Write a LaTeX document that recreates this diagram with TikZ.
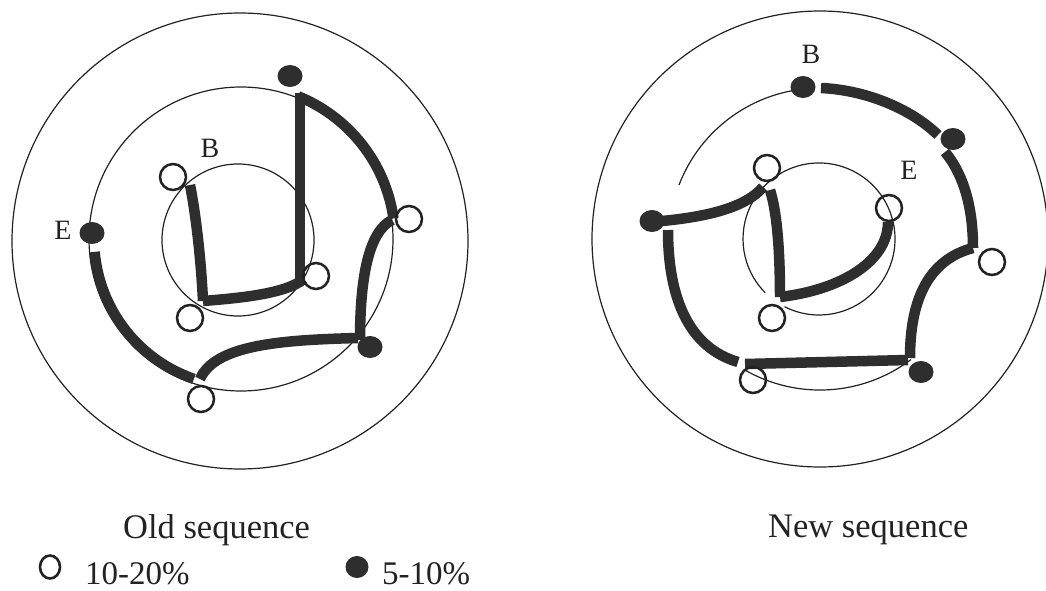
\documentclass[tikz,border=0pt]{standalone}
\usepackage{fontspec}
\setmainfont{Liberation Serif}
\usetikzlibrary{shapes.geometric}
\definecolor{ink}{HTML}{222222}
\definecolor{heavy}{HTML}{2E2E2E}
\begin{document}
\begin{tikzpicture}[x=1pt,y=1pt,
  ring/.style={draw=ink, line width=1.2pt},
  route/.style={draw=heavy, line width=10.5pt, line cap=butt},
  opendot/.style={circle, draw=ink, line width=2.5pt, minimum size=26pt, inner sep=0pt},
  fulldot/.style={ellipse, fill=heavy, minimum width=25pt, minimum height=22pt, inner sep=0pt},
  lbl/.style={font=\fontsize{28}{30}\selectfont, text=ink, inner sep=0pt},
  capt/.style={font=\fontsize{34.5}{38}\selectfont, text=ink, inner sep=0pt, text depth=0pt, anchor=base west},
  keyt/.style={font=\fontsize{33}{36}\selectfont, text=ink, inner sep=0pt, text depth=0pt, anchor=base west},
]
\useasboundingbox[fill=white] (0,0) rectangle (1046,-591);

% ---------------- left diagram ----------------
\draw[ring] (240,-241) circle[radius=228];
\draw[ring] (241,-239) circle[radius=152];
\draw[ring] (238,-240) circle[radius=76];

\coordinate (a1) at (190,-185);
\coordinate (a2) at (203,-301);
\coordinate (a3) at (304,-279);
\coordinate (a4) at (300,-283);
\coordinate (a5) at (300,-93);
\coordinate (a6) at (298.06,-96.29);
\coordinate (a7) at (392,-220);
\coordinate (a8) at (360,-340);
\coordinate (a9) at (358,-338);
\coordinate (a10) at (200,-379);
\coordinate (a11) at (193.9,-378.9);

\draw[route] (a1) .. controls (196,-215) and (201,-260) .. (a2);
\draw[route] (a2) .. controls (240,-298) and (285,-294) .. (a3);
\draw[route] (a4) -- (a5);
\draw[route] (a6) arc[start angle=68, end angle=8, radius=155];
\draw[route] (a7) .. controls (368,-232) and (360,-280) .. (a8);
\draw[route] (a9) .. controls (280,-340) and (215,-345) .. (a10);
\draw[route] (a11) arc[start angle=251, end angle=185, radius=148];

\node[opendot] (o1) at (173,-177) {};
\node[opendot] (o2) at (190,-318) {};
\node[opendot] (o3) at (316,-276) {};
\node[opendot] (o4) at (409,-219) {};
\node[opendot] (o5) at (201,-399) {};
\node[fulldot] (f1) at (290,-76) {};
\node[fulldot] (f2) at (92,-233) {};
\node[fulldot] (f3) at (370,-347) {};
\node[lbl] (lb) at (210,-148) {B};
\node[lbl] (le) at (63,-230) {E};

% ---------------- right diagram ----------------
\draw[ring] (820,-239) circle[radius=228];
\draw[ring] (679,-185) arc[start angle=159, end angle=92, radius=151];
\draw[ring] (744.5,-369.8) arc[start angle=240, end angle=307, radius=151];
\draw[ring] (784.5,-306.7) arc[start angle=243, end angle=585, radius=76];

\coordinate (b1) at (821,-88);
\coordinate (b2) at (938,-135);
\coordinate (b3) at (945,-152);
\coordinate (b4) at (973,-248);
\coordinate (b5) at (910,-358);
\coordinate (b6) at (908,-360);
\coordinate (b7) at (745,-364);
\coordinate (b8) at (738,-362);
\coordinate (b9) at (668,-230);
\coordinate (b10) at (662,-221);
\coordinate (b11) at (763,-187);
\coordinate (b12) at (770,-190);
\coordinate (b13) at (780,-297);
\coordinate (b14) at (888,-222);

\draw[route] (b1) .. controls (865,-90) and (910,-108) .. (b2);
\draw[route] (b3) .. controls (960,-170) and (973,-200) .. (b4);
\draw[route] (b4) .. controls (935,-258) and (910,-290) .. (b5);
\draw[route] (b6) -- (b7);
\draw[route] (b8) .. controls (690,-348) and (668,-300) .. (b9);
\draw[route] (b10) .. controls (715,-216) and (748,-205) .. (b11);
\draw[route] (b12) .. controls (778,-215) and (780,-260) .. (b13);
\draw[route] (b13) .. controls (840,-290) and (888,-262) .. (b14);

\node[opendot] (p1) at (767,-168) {};
\node[opendot] (p2) at (889,-208) {};
\node[opendot] (p3) at (992,-262) {};
\node[opendot] (p4) at (772,-318) {};
\node[opendot] (p5) at (753,-380) {};
\node[fulldot] (q1) at (803,-87) {};
\node[fulldot] (q2) at (953,-139) {};
\node[fulldot] (q3) at (652,-221) {};
\node[fulldot] (q4) at (921,-372) {};
\node[lbl] (rb) at (811,-54) {B};
\node[lbl] (re) at (909,-170) {E};

% ---------------- captions and legend ----------------
\node[capt] (old) at (123,-538) {Old sequence};
\node[capt] (new) at (768,-537) {New sequence};
\node[ellipse, draw=ink, line width=2.6pt, minimum width=20pt, minimum height=23pt, inner sep=0pt] (kopen) at (50,-567) {};
\node[keyt] (kopent) at (85,-584) {10-20\%};
\node[ellipse, fill=heavy, minimum width=23pt, minimum height=22pt, inner sep=0pt] (kfull) at (357,-567) {};
\node[keyt] (kfullt) at (382,-584) {5-10\%};
\end{tikzpicture}
\end{document}
